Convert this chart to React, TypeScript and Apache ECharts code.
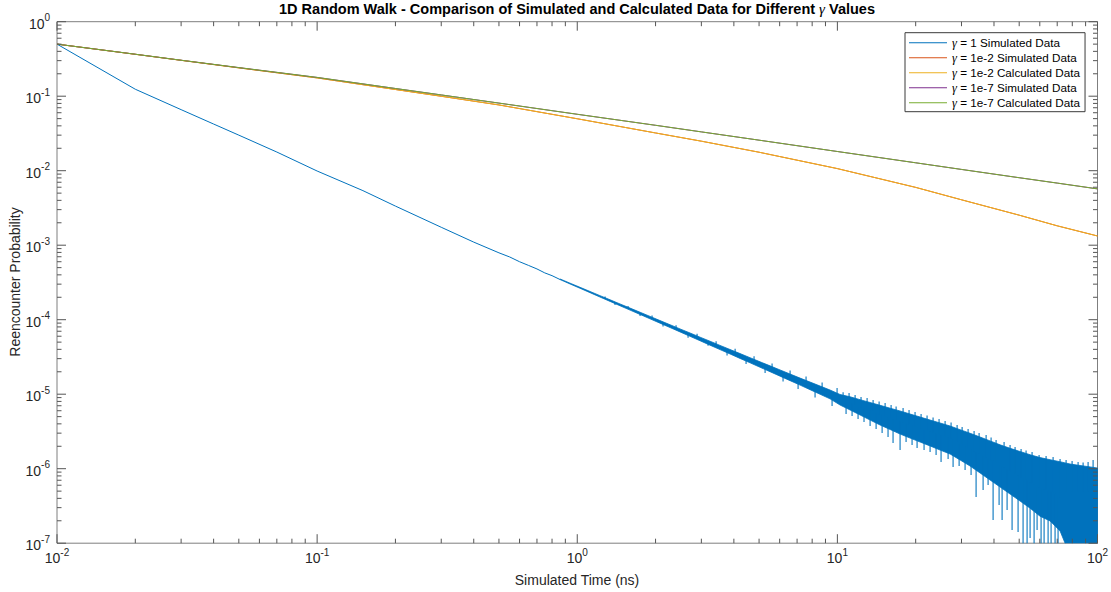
import React, { useEffect, useRef } from 'react';
import * as echarts from 'echarts';

// ---------- data ----------
const seriesNames = [
  'γ = 1 Simulated Data',
  'γ = 1e-2 Simulated Data',
  'γ = 1e-2 Calculated Data',
  'γ = 1e-7 Simulated Data',
  'γ = 1e-7 Calculated Data',
];

// gamma = 1 simulated data, smooth early part
const blueTimes = [0.01, 0.02, 0.03, 0.04, 0.05, 0.07, 0.1, 0.15, 0.2, 0.3, 0.4, 0.5, 0.55, 0.6, 0.65, 0.7, 0.75, 0.8, 0.859];
const blueValues = [0.5, 0.124, 0.066, 0.0423, 0.03, 0.0178, 0.0099, 5.4e-3, 3.35e-3, 1.74e-3, 1.1e-3, 7.9e-4, 6.95e-4, 6.0e-4, 5.35e-4, 4.8e-4, 4.25e-4, 3.9e-4, 3.46e-4];

// gamma = 1 simulated data, noisy part: upper and lower edge of the dense noise band
const bandTimes = [
  0.859, 0.938, 1.025, 1.12, 1.223, 1.337, 1.46, 1.596, 1.744, 1.905, 2.081, 2.274, 2.484, 2.714, 2.965,
  3.239, 3.539, 3.867, 4.225, 4.616, 5.044, 5.511, 6.022, 6.58, 7.189, 7.854, 8.582, 9.374, 10.24,
  11.19, 12.23, 13.36, 14.59, 15.95, 17.42, 19.03, 20.8, 22.72, 24.82, 27.12, 29.63, 32.37, 35.37, 38.64,
  42.22, 46.12, 50.39, 55.06, 60.15, 65.72, 71.8, 75.05, 78.44, 85.71, 93.66, 100,
];
const bandHigh = [
  3.52e-4, 3.095e-4, 2.72e-4, 2.393e-4, 2.104e-4, 1.851e-4, 1.627e-4, 1.431e-4, 1.259e-4, 1.107e-4, 9.73e-5, 8.56e-5, 7.52e-5, 6.63e-5, 5.83e-5,
  5.14e-5, 4.52e-5, 3.98e-5, 3.51e-5, 3.09e-5, 2.72e-5, 2.4e-5, 2.115e-5, 1.865e-5, 1.644e-5, 1.455e-5, 1.286e-5, 1.137e-5, 9.91e-6,
  9.23e-6, 8.44e-6, 7.74e-6, 7.1e-6, 6.49e-6, 5.95e-6, 5.42e-6, 4.94e-6, 4.5e-6, 4.11e-6, 3.74e-6, 3.34e-6, 2.99e-6, 2.66e-6, 2.36e-6,
  2.09e-6, 1.88e-6, 1.7e-6, 1.54e-6, 1.41e-6, 1.32e-6, 1.24e-6, 1.197e-6, 1.156e-6, 1.104e-6, 1.057e-6, 1.02e-6,
];
const bandLow = [
  3.455e-4, 3.02e-4, 2.64e-4, 2.307e-4, 2.015e-4, 1.761e-4, 1.539e-4, 1.345e-4, 1.176e-4, 1.027e-4, 8.98e-5, 7.85e-5, 6.86e-5, 5.98e-5, 5.22e-5,
  4.55e-5, 3.97e-5, 3.47e-5, 3.02e-5, 2.64e-5, 2.3e-5, 2.005e-5, 1.746e-5, 1.521e-5, 1.325e-5, 1.15e-5, 9.98e-6, 8.66e-6, 7.16e-6,
  6.14e-6, 5.26e-6, 4.5e-6, 3.86e-6, 3.36e-6, 2.92e-6, 2.58e-6, 2.28e-6, 2.02e-6, 1.78e-6, 1.575e-6, 1.31e-6, 1.087e-6, 8.76e-7, 7.05e-7,
  5.68e-7, 4.57e-7, 3.68e-7, 2.95e-7, 2.3e-7, 1.99e-7, 1.46e-7, 1.0e-7, 5e-8, 5e-8, 5e-8, 5e-8,
];

// individual noise excursions of the gamma = 1 data: time, value inside the band, value at the tip
const spikeTimes = [
  1.279, 1.397, 1.568, 1.744, 1.939, 2.137, 2.398, 2.667, 2.888, 3.184, 3.418, 3.766, 4.045, 4.457, 4.783, 5.274, 5.61, 6.183, 6.58, 7.063, 7.579, 8.208, 8.737, 9.542, 9.974,
  10.52, 10.8, 11.09, 11.39, 11.7, 12.01, 12.33, 12.66, 13.01, 13.36,
  13.72, 14.09, 14.47, 14.86, 15.26, 15.66, 16.09, 16.37, 16.82, 17.42,
  17.89, 18.37, 18.86, 19.37, 19.89, 20.25, 20.98, 21.54, 22.12, 22.72,
  23.33, 23.96, 24.6, 25.04, 25.95, 26.65, 27.36, 27.85, 28.86, 29.38,
  30.17, 30.97, 31.81, 32.66, 33.54, 34.14, 35.06, 36.33, 37.31, 37.97,
  38.99, 39.69, 40.75, 41.85, 42.98, 43.74, 44.92, 46.12, 46.95, 48.21,
  49.51, 50.84, 51.75, 53.14, 53.62, 55.06, 56.04, 57.05, 58.58, 59.63,
  60.69, 62.33, 63.44, 64.58, 66.31, 67.5, 68.69, 70.54, 71.8, 75.73,
  79.86, 84.22, 88.04, 92.02, 96.18,
];
const spikeBase = [
  1.93e-4, 1.7e-4, 1.43e-4, 1.22e-4, 1.04e-4, 9.03e-5, 7.6e-5, 6.51e-5, 5.77e-5, 4.99e-5, 4.49e-5, 3.9e-5, 3.51e-5, 3.03e-5, 2.73e-5, 2.36e-5, 2.15e-5, 1.87e-5, 1.7e-5, 1.53e-5, 1.38e-5, 1.23e-5, 1.12e-5, 9.79e-6, 9.17e-6,
  8.42e-6, 7.49e-6, 7.49e-6, 7.49e-6, 7.2e-6, 6.69e-6, 6.69e-6, 6.5e-6, 6.2e-6, 5.99e-6,
  5.99e-6, 5.6e-6, 5.4e-6, 5.37e-6, 5.1e-6, 4.85e-6, 4.8e-6, 4.6e-6, 4.5e-6, 4.3e-6,
  4.2e-6, 4.0e-6, 3.9e-6, 3.8e-6, 3.65e-6, 3.6e-6, 3.5e-6, 3.35e-6, 3.25e-6, 3.16e-6,
  3.05e-6, 2.95e-6, 2.85e-6, 2.83e-6, 2.7e-6, 2.6e-6, 2.54e-6, 2.45e-6, 2.3e-6, 2.2e-6,
  2.1e-6, 2.0e-6, 1.9e-6, 1.83e-6, 1.7e-6, 1.65e-6, 1.6e-6, 1.5e-6, 1.42e-6, 1.37e-6,
  1.3e-6, 1.28e-6, 1.2e-6, 1.12e-6, 1.08e-6, 1.04e-6, 9.8e-7, 9.27e-7, 9e-7, 8.6e-7,
  8.1e-7, 7.7e-7, 7.5e-7, 7.1e-7, 7e-7, 6.54e-7, 6.3e-7, 6.1e-7, 5.8e-7, 5.6e-7,
  5.5e-7, 5.3e-7, 5.2e-7, 5.1e-7, 5e-7, 4.8e-7, 4.6e-7, 4.3e-7, 4.12e-7, 5e-7,
  5e-7, 5e-7, 5e-7, 5e-7, 5e-7,
];
const spikeTips = [
  2.05e-4, 1.575e-4, 1.527e-4, 1.121e-4, 1.138e-4, 8.1e-5, 8.41e-5, 5.71e-5, 6.47e-5, 4.48e-5, 5.13e-5, 3.3e-5, 4.07e-5, 2.54e-5, 3.23e-5, 1.93e-5, 2.58e-5, 1.48e-5, 2.08e-5, 1.174e-5, 1.73e-5, 9.03e-6, 1.436e-5, 6.94e-6, 1.21e-5,
  1.065e-5, 5.42e-6, 1.038e-5, 5.1e-6, 9.75e-6, 4.65e-6, 9.17e-6, 4.23e-6, 8.89e-6, 3.74e-6,
  8.36e-6, 3.41e-6, 7.98e-6, 3.01e-6, 7.62e-6, 2.66e-6, 7.16e-6, 2.21e-6, 6.84e-6, 1.78e-6,
  6.53e-6, 2.28e-6, 6.14e-6, 2.08e-6, 5.77e-6, 1.9e-6, 5.42e-6, 1.78e-6, 5.18e-6, 1.68e-6,
  4.87e-6, 1.53e-6, 4.65e-6, 1.23e-6, 4.37e-6, 1.35e-6, 4.17e-6, 1.054e-6, 3.86e-6, 1.087e-6,
  3.63e-6, 9.61e-7, 3.41e-6, 8.23e-7, 3.21e-6, 4.17e-7, 3.01e-6, 5.18e-7, 2.83e-6, 6.04e-7,
  2.62e-6, 2.05e-7, 2.43e-6, 3.26e-7, 2.05e-7, 2.28e-6, 2.79e-7, 2.08e-6, 1.5e-7, 1.96e-6,
  1.41e-7, 1.84e-6, 5e-8, 1.75e-6, 5e-8, 1.17e-7, 1.68e-6, 5e-8, 1.5e-7, 1.53e-6,
  5e-8, 9.5e-8, 1.48e-6, 5e-8, 5e-8, 1.44e-6, 5e-8, 5e-8, 1.35e-6, 1.31e-6,
  1.27e-6, 1.23e-6, 1.21e-6, 1.23e-6, 1.31e-6,
];

// gamma = 1e-2 and 1e-7 curves
const curveTimes = [0.01, 0.02, 0.03, 0.05, 0.1, 0.2, 0.3, 0.5, 1, 2, 3, 5, 10, 20, 30, 50, 70, 100];
const g2SimValues = [0.5, 0.365, 0.303, 0.24, 0.176, 0.123, 0.0998, 0.0763, 0.0498, 0.0321, 0.0249, 0.0177, 0.01067, 5.97e-3, 4.07e-3, 2.53e-3, 1.82e-3, 1.33e-3];
const g2CalcValues = [0.5, 0.365, 0.303, 0.24, 0.176, 0.123, 0.0998, 0.0763, 0.0498, 0.0321, 0.0249, 0.0177, 0.01067, 5.97e-3, 4.07e-3, 2.53e-3, 1.82e-3, 1.33e-3];
const g7SimValues = [0.5, 0.366, 0.304, 0.242, 0.1787, 0.1269, 0.104, 0.0808, 0.0572, 0.0407, 0.0332, 0.0257, 0.0181, 0.01277, 0.0104, 8.05e-3, 6.82e-3, 5.7e-3];
const g7CalcValues = [0.5, 0.366, 0.304, 0.242, 0.1787, 0.1269, 0.104, 0.0808, 0.0572, 0.0407, 0.0332, 0.0257, 0.0181, 0.01277, 0.0104, 8.05e-3, 6.82e-3, 5.7e-3];

// axis ticks
const xDecades = [0.01, 0.1, 1, 10, 100];
const yDecades = [1e-7, 1e-6, 1e-5, 1e-4, 1e-3, 1e-2, 1e-1, 1];
const minorSteps = [2, 3, 4, 5, 6, 7, 8, 9];

// ---------- styles ----------
const COLORS = ['#0072BD', '#D95319', '#EDB120', '#7E2F8E', '#77AC30'];
const FONT = '"Liberation Sans", Arial, Helvetica, sans-serif';
const SERIF = '"Liberation Serif", "DejaVu Serif", serif';
const TEXT = '#262626';
const TICK = '#555555';
const X_MIN = 0.01, X_MAX = 100, Y_MIN = 1e-7, Y_MAX = 1;
const MAJOR_LEN = 9, MINOR_LEN = 4.5;

const pairs = (xs: number[], ys: number[]) => xs.map((x, i) => [x, ys[i]]);

const tickRich = {
  b: { fontSize: 14, verticalAlign: 'bottom', fontFamily: FONT, color: TEXT },
  s: { fontSize: 10, verticalAlign: 'top', padding: [0, 0, 8, 0], fontFamily: FONT, color: TEXT },
};
const tickFormatter = (v: number) => `{b|10}{s|${Math.round(Math.log10(v))}}`;

function buildOption() {
  const xTickData: number[][] = [];
  xDecades.forEach((d) => xTickData.push([d, 1e-3, MAJOR_LEN]));
  xDecades.slice(0, -1).forEach((d) => minorSteps.forEach((m) => xTickData.push([d * m, 1e-3, MINOR_LEN])));
  const yTickData: number[][] = [];
  yDecades.forEach((d) => yTickData.push([1, d, MAJOR_LEN]));
  yDecades.slice(0, -1).forEach((d) => minorSteps.forEach((m) => yTickData.push([1, d * m, MINOR_LEN])));

  const lineSeries = (name: string, data: number[][], color: string) => ({
    type: 'line',
    name,
    data,
    color,
    symbol: 'none',
    showSymbol: false,
    smooth: false,
    lineStyle: { width: 1, color },
    emphasis: { disabled: true },
    silent: true,
    z: 2,
  });

  return {
    animation: false,
    backgroundColor: '#ffffff',
    grid: {
      left: 57, right: 13.5, top: 21.7, bottom: 48.8,
      containLabel: false, outerBoundsMode: 'none',
      show: true, borderColor: '#7f7f7f', borderWidth: 1, backgroundColor: '#ffffff',
    },
    xAxis: {
      type: 'log', logBase: 10, min: X_MIN, max: X_MAX, splitNumber: 4,
      axisLine: { show: false }, axisTick: { show: false }, splitLine: { show: false },
      minorTick: { show: false }, minorSplitLine: { show: false },
      axisLabel: { formatter: tickFormatter, rich: tickRich, margin: 4, showMinLabel: true, showMaxLabel: true, hideOverlap: false },
    },
    yAxis: {
      type: 'log', logBase: 10, min: Y_MIN, max: Y_MAX, splitNumber: 7,
      axisLine: { show: false }, axisTick: { show: false }, splitLine: { show: false },
      minorTick: { show: false }, minorSplitLine: { show: false },
      axisLabel: { formatter: tickFormatter, rich: tickRich, margin: 7, showMinLabel: true, showMaxLabel: true, hideOverlap: false },
    },
    legend: {
      data: seriesNames.map((n, i) => ({ name: n, icon: 'path://M0,0H38V1.1H0Z', itemStyle: { color: COLORS[i] } })),
      orient: 'vertical',
      left: 905, top: 32.7,
      itemWidth: 38, itemHeight: 14, itemGap: 2,
      padding: [3.5, 5, 2.5, 4],
      borderColor: '#3a3a3a', borderWidth: 1, backgroundColor: '#ffffff',
      selectedMode: false,
      formatter: (name: string) => `{g|γ}{t|${name.slice(1)}}`,
      textStyle: {
        fontSize: 11.7, color: '#000', fontFamily: FONT,
        rich: {
          g: { fontSize: 12.5, fontStyle: 'italic', fontFamily: SERIF, color: '#000' },
          t: { fontSize: 11.7, fontFamily: FONT, color: '#000' },
        },
      },
      z: 10,
    },
    graphic: [
      {
        type: 'text', x: 577, y: 9, silent: true,
        style: {
          text: '{t|1D Random Walk - Comparison of Simulated and Calculated Data for Different }{g|γ}{t| Values}',
          align: 'center', verticalAlign: 'middle',
          rich: {
            t: { fontSize: 14.5, fontWeight: 'bold', fontFamily: FONT, fill: '#000', color: '#000' },
            g: { fontSize: 15, fontStyle: 'italic', fontFamily: SERIF, fill: '#000', color: '#000' },
          },
        },
      },
      {
        type: 'text', x: 577, y: 580, silent: true,
        style: { text: 'Simulated Time (ns)', align: 'center', verticalAlign: 'middle', fontSize: 14, fontFamily: FONT, fill: TEXT },
      },
      {
        type: 'text', x: 15, y: 282, rotation: Math.PI / 2, silent: true,
        style: { text: 'Reencounter Probability', align: 'center', verticalAlign: 'middle', fontSize: 14, fontFamily: FONT, fill: TEXT },
      },
    ],
    series: [
      lineSeries(seriesNames[0], pairs(blueTimes, blueValues), COLORS[0]),
      {
        type: 'custom', name: 'noise band', silent: true, clip: true, z: 2,
        data: [[1, 1e-4]],
        renderItem: (_p: any, api: any) => {
          const pts: number[][] = [];
          for (let i = 0; i < bandTimes.length; i++) pts.push(api.coord([bandTimes[i], bandHigh[i]]));
          for (let i = bandTimes.length - 1; i >= 0; i--) pts.push(api.coord([bandTimes[i], bandLow[i]]));
          return { type: 'polygon', shape: { points: pts }, style: { fill: COLORS[0], stroke: COLORS[0], lineWidth: 0.8 } };
        },
      },
      {
        type: 'custom', name: 'noise spikes', silent: true, clip: true, z: 2,
        data: spikeTimes.map((t, i) => [t, spikeBase[i], spikeTips[i]]),
        encode: { x: 0, y: [1, 2] },
        renderItem: (_p: any, api: any) => {
          const a = api.coord([api.value(0), api.value(1)]);
          const b = api.coord([api.value(0), api.value(2)]);
          return { type: 'line', shape: { x1: a[0], y1: a[1], x2: b[0], y2: b[1] }, style: { stroke: COLORS[0], lineWidth: 1.2, opacity: 0.9 } };
        },
      },
      lineSeries(seriesNames[1], pairs(curveTimes, g2SimValues), COLORS[1]),
      lineSeries(seriesNames[2], pairs(curveTimes, g2CalcValues), COLORS[2]),
      lineSeries(seriesNames[3], pairs(curveTimes, g7SimValues), COLORS[3]),
      lineSeries(seriesNames[4], pairs(curveTimes, g7CalcValues), COLORS[4]),
      {
        type: 'custom', name: 'x ticks', silent: true, clip: false, z: 5,
        data: xTickData,
        renderItem: (_p: any, api: any) => {
          const v = api.value(0);
          const len = api.value(2);
          const bot = api.coord([v, Y_MIN]);
          const top = api.coord([v, Y_MAX]);
          const st = { stroke: TICK, lineWidth: 1 };
          return {
            type: 'group',
            children: [
              { type: 'line', shape: { x1: bot[0], y1: bot[1], x2: bot[0], y2: bot[1] - len }, style: st },
              { type: 'line', shape: { x1: top[0], y1: top[1], x2: top[0], y2: top[1] + len }, style: st },
            ],
          };
        },
      },
      {
        type: 'custom', name: 'y ticks', silent: true, clip: false, z: 5,
        data: yTickData,
        renderItem: (_p: any, api: any) => {
          const v = api.value(1);
          const len = api.value(2);
          const l = api.coord([X_MIN, v]);
          const r = api.coord([X_MAX, v]);
          const st = { stroke: TICK, lineWidth: 1 };
          return {
            type: 'group',
            children: [
              { type: 'line', shape: { x1: l[0], y1: l[1], x2: l[0] + len, y2: l[1] }, style: st },
              { type: 'line', shape: { x1: r[0], y1: r[1], x2: r[0] - len, y2: r[1] }, style: st },
            ],
          };
        },
      },
    ],
  };
}

export default function App() {
  const ref = useRef<HTMLDivElement>(null);
  useEffect(() => {
    if (!ref.current) return;
    const chart = echarts.init(ref.current, null, { renderer: 'svg' });
    chart.setOption(buildOption() as any);
    return () => chart.dispose();
  }, []);
  return <div ref={ref} style={{ position: 'absolute', left: 0, top: 0, width: 1111, height: 592 }} />;
}
